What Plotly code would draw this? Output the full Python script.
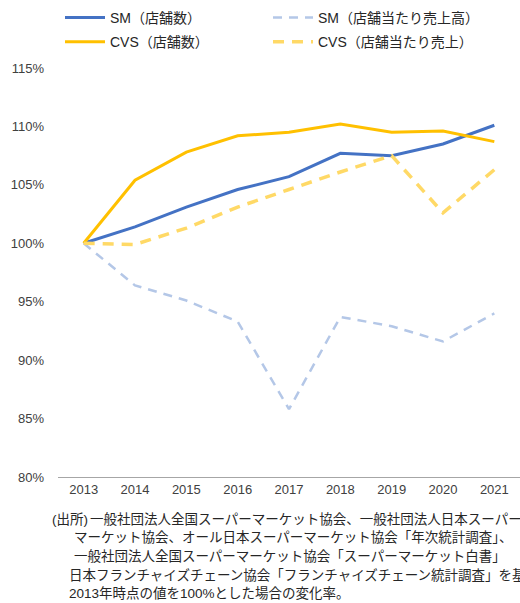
import plotly.graph_objects as go

# 年次
years = [2013, 2014, 2015, 2016, 2017, 2018, 2019, 2020, 2021]

# 2013年=100%とした変化率（%）
sm_stores = [100.0, 101.4, 103.1, 104.6, 105.7, 107.7, 107.5, 108.5, 110.1]
sm_sales = [100.0, 96.4, 95.1, 93.3, 85.8, 93.7, 92.9, 91.6, 94.0]
cvs_stores = [100.0, 105.4, 107.8, 109.2, 109.5, 110.2, 109.5, 109.6, 108.7]
cvs_sales = [100.0, 99.9, 101.3, 103.1, 104.6, 106.1, 107.5, 102.6, 106.3]

y_ticks = [80, 85, 90, 95, 100, 105, 110, 115]

note_head = "(出所)"
note_lines = [
    "一般社団法人全国スーパーマーケット協会、一般社団法人日本スーパーマーケット協会、",
    "マーケット協会、オール日本スーパーマーケット協会「年次統計調査」、",
    "一般社団法人全国スーパーマーケット協会「スーパーマーケット白書」",
    "日本フランチャイズチェーン協会「フランチャイズチェーン統計調査」を基に作成。",
    "2013年時点の値を100%とした場合の変化率。",
]

font_family = "Liberation Sans, Arial, Noto Sans CJK JP, sans-serif"

W, H = 520, 603
L, R, T, B = 58, 0, 68, 126
PW, PH = W - L - R, H - T - B

fig = go.Figure()

fig.add_trace(go.Scatter(
    x=years, y=sm_stores, mode="lines", name="SM（店舗数）",
    line=dict(color="#4472C4", width=3), legend="legend", legendgroup="a"
))
fig.add_trace(go.Scatter(
    x=years, y=cvs_stores, mode="lines", name="CVS（店舗数）",
    line=dict(color="#FFC000", width=3), legend="legend", legendgroup="b"
))
fig.add_trace(go.Scatter(
    x=years, y=sm_sales, mode="lines", name="SM（店舗当たり売上高）",
    line=dict(color="#B4C7E7", width=2.5, dash="9px,7px"), legend="legend2", legendgroup="c"
))
fig.add_trace(go.Scatter(
    x=years, y=cvs_sales, mode="lines", name="CVS（店舗当たり売上）",
    line=dict(color="#FFD966", width=3.5, dash="11px,8px"), legend="legend2", legendgroup="d"
))


def px_x(px):
    return (px - L) / PW


def px_y(py):
    return (H - B - py) / PH


# 注記（出所）
fig.add_annotation(
    text=note_head, xref="paper", yref="paper", x=px_x(50), y=px_y(519),
    xanchor="left", yanchor="middle", showarrow=False,
    font=dict(size=13.5, color="#262626", family=font_family)
)
note_x = [88, 72, 72, 67, 67]
note_y = [519, 537.5, 556, 574.5, 593]
for txt, px, py in zip(note_lines, note_x, note_y):
    fig.add_annotation(
        text=txt, xref="paper", yref="paper", x=px_x(px), y=px_y(py),
        xanchor="left", yanchor="middle", showarrow=False,
        font=dict(size=13.5, color="#262626", family=font_family)
    )

legend_style = dict(
    orientation="v", yanchor="top", xanchor="left",
    xref="container", yref="container",
    font=dict(size=14, color="#262626"),
    tracegroupgap=3, itemwidth=40, bgcolor="rgba(0,0,0,0)",
)

fig.update_layout(
    width=W, height=H,
    margin=dict(l=L, r=R, t=T, b=B, autoexpand=False),
    paper_bgcolor="white", plot_bgcolor="white",
    font=dict(family=font_family, size=13, color="#404040"),
    showlegend=True,
    legend=dict(x=60 / W, y=1 - 2 / H, **legend_style),
    legend2=dict(x=268 / W, y=1 - 2 / H, **legend_style),
    xaxis=dict(
        range=[2012.5, 2021.5], tickmode="array", tickvals=years,
        ticktext=[str(y) for y in years],
        showgrid=False, zeroline=False, showline=True,
        linecolor="#A6A6A6", linewidth=1, ticks="",
        tickfont=dict(size=13, color="#404040"),
    ),
    yaxis=dict(
        range=[80, 115], tickmode="array", tickvals=y_ticks,
        ticktext=[f"{v}%" for v in y_ticks],
        showgrid=False, zeroline=False, showline=False, ticks="",
        tickfont=dict(size=13, color="#404040"),
        ticklabelstandoff=13,
    ),
)

fig.write_html(
    "out.html",
    config={"displayModeBar": False},
    post_script="document.body.style.margin='0';",
)
